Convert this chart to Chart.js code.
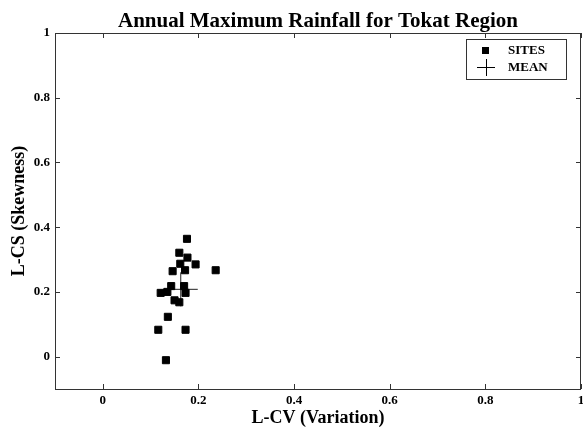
<!DOCTYPE html>
<html>
<head>
<meta charset="utf-8">
<script src="https://cdn.jsdelivr.net/npm/chart.js@4/dist/chart.umd.min.js"></script>
<style>
html,body{margin:0;padding:0;background:#fff;}
#wrap{width:583px;height:430px;position:relative;}
</style>
</head>
<body>
<div id="wrap"><canvas id="c" width="583" height="430"></canvas></div>
<script>
const chartTitle = "Annual Maximum Rainfall for Tokat Region";
const xAxisTitle = "L-CV (Variation)";
const yAxisTitle = "L-CS (Skewness)";
const tickValues = [0, 0.2, 0.4, 0.6, 0.8, 1];
const siteLCV = [0.176, 0.160, 0.177, 0.162, 0.194, 0.236, 0.146, 0.172, 0.143, 0.170, 0.121, 0.135, 0.173, 0.150, 0.160, 0.136, 0.116, 0.173, 0.132];
const siteLCS = [0.364, 0.321, 0.306, 0.287, 0.285, 0.267, 0.264, 0.267, 0.218, 0.218, 0.197, 0.200, 0.197, 0.174, 0.168, 0.123, 0.083, 0.083, -0.011];
const meanLCV = [0.163];
const meanLCS = [0.208];
const seriesLabels = ["SITES", "MEAN"];

const serif = "'Liberation Serif', 'Times New Roman', serif";
const ink = '#000';
const frame = '#333';

const sites = siteLCV.map((v, i) => ({x: v, y: siteLCS[i]}));
const mean = meanLCV.map((v, i) => ({x: v, y: meanLCS[i]}));

const framePlugin = {
  id: 'frame',
  afterDraw(chart) {
    const {ctx, chartArea: a, scales} = chart;
    ctx.save();
    ctx.strokeStyle = frame;
    ctx.lineWidth = 1;
    ctx.strokeRect(Math.round(a.left) + 0.5, Math.round(a.top) + 0.5,
      Math.round(a.right - a.left) - 1, Math.round(a.bottom - a.top));
    const tl = 5;
    ctx.beginPath();
    tickValues.forEach(v => {
      const px = Math.round(scales.x.getPixelForValue(v)) + 0.5;
      ctx.moveTo(px, a.bottom); ctx.lineTo(px, a.bottom - tl);
      ctx.moveTo(px, a.top); ctx.lineTo(px, a.top + tl);
      const py = Math.round(scales.y.getPixelForValue(v)) + 0.5;
      ctx.moveTo(a.left, py); ctx.lineTo(a.left + tl, py);
      ctx.moveTo(a.right, py); ctx.lineTo(a.right - tl, py);
    });
    ctx.stroke();
    // title
    ctx.fillStyle = ink;
    ctx.font = "bold 21px " + serif;
    ctx.textAlign = 'center';
    ctx.textBaseline = 'alphabetic';
    ctx.fillText(chartTitle, (a.left + a.right) / 2, 27);
    // legend
    const bx = a.right - 115, by = a.top + 6, bw = 100, bh = 40;
    ctx.fillStyle = '#fff';
    ctx.fillRect(bx, by, bw, bh);
    ctx.strokeStyle = frame;
    ctx.strokeRect(bx + 0.5, by + 0.5, bw, bh);
    ctx.fillStyle = ink;
    ctx.fillRect(bx + 16, by + 8, 7, 7);
    ctx.beginPath();
    ctx.strokeStyle = ink;
    ctx.moveTo(bx + 11, by + 28.5); ctx.lineTo(bx + 29, by + 28.5);
    ctx.moveTo(bx + 20.5, by + 20); ctx.lineTo(bx + 20.5, by + 37);
    ctx.stroke();
    ctx.font = "bold 13px " + serif;
    ctx.textAlign = 'left';
    ctx.textBaseline = 'middle';
    ctx.fillText(seriesLabels[0], bx + 42, by + 12);
    ctx.fillText(seriesLabels[1], bx + 42, by + 29);
    ctx.restore();
  }
};

new Chart(document.getElementById('c'), {
  type: 'scatter',
  data: {
    datasets: [
      {label: seriesLabels[0], data: sites, pointStyle: 'rect', pointRadius: 5, pointBorderWidth: 1,
       backgroundColor: ink, borderColor: ink, pointHoverRadius: 5},
      {label: seriesLabels[1], data: mean, pointStyle: 'cross', pointRadius: 17, pointBorderWidth: 1,
       backgroundColor: ink, borderColor: '#222', pointHoverRadius: 17}
    ]
  },
  options: {
    responsive: false,
    animation: false,
    events: [],
    layout: {autoPadding: false, padding: {top: 33, right: 2, left: 0, bottom: 0}},
    plugins: {legend: {display: false}, title: {display: false}, tooltip: {enabled: false}},
    scales: {
      x: {
        type: 'linear', min: -0.1, max: 1,
        afterBuildTicks(s) { s.ticks = tickValues.map(v => ({value: v})); },
        afterFit(s) { s.height = 41; s.paddingLeft = 0; s.paddingRight = 0; },
        grid: {display: false, drawTicks: false},
        border: {display: false},
        ticks: {color: ink, padding: 4, font: {family: serif, size: 13, weight: 'bold'},
                callback: v => String(v)},
        title: {display: true, text: xAxisTitle, color: ink, padding: {top: 0, bottom: 1},
                font: {family: serif, size: 18, weight: 'bold'}}
      },
      y: {
        type: 'linear', min: -0.1, max: 1,
        afterBuildTicks(s) { s.ticks = tickValues.map(v => ({value: v})); },
        afterFit(s) { s.width = 55; s.paddingTop = 0; s.paddingBottom = 0; },
        grid: {display: false, drawTicks: false},
        border: {display: false},
        ticks: {color: ink, padding: 5, font: {family: serif, size: 13, weight: 'bold'},
                callback: v => String(v)},
        title: {display: true, text: yAxisTitle, color: ink, padding: {top: 9, bottom: 0},
                font: {family: serif, size: 18, weight: 'bold'}}
      }
    }
  },
  plugins: [framePlugin]
});
</script>
</body>
</html>
